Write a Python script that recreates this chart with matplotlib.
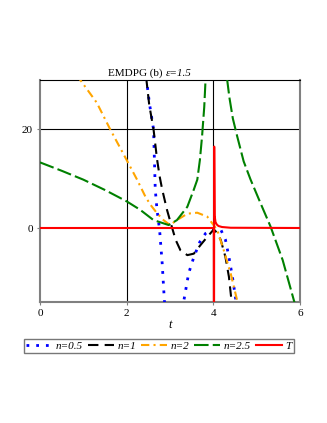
import numpy as np
import matplotlib.pyplot as plt

plt.rcParams['font.family'] = ['Liberation Serif', 'DejaVu Serif']

# n=0.5
x_n05 = [2.45, 2.53, 2.62, 2.66, 2.7, 2.76, 2.82, 2.87, 2.95, 3.05, 3.15, 3.25, 3.32, 3.43,
         3.55, 3.69, 3.82, 3.97, 4.08, 4.17, 4.28, 4.36, 4.44, 4.51, 4.55]
y_n05 = [30.5, 25, 20, 7.8, 3.7, -0.4, -7.2, -14.7, -20, -23, -22.5, -19, -14.7, -9.2,
         -5.9, -2.8, -1.1, -0.3, -0.1, -0.3, -2.4, -5.9, -9.9, -14, -17]
# n=1
x_n1 = [2.45, 2.52, 2.62, 2.7, 2.76, 2.82, 2.93, 3.03, 3.13, 3.24, 3.4, 3.55, 3.7,
        3.86, 4.01, 4.09, 4.17, 4.28, 4.36, 4.41, 4.45]
y_n1 = [30.5, 25, 20, 14, 10.5, 7.8, 3.7, 0.6, -2.4, -4.5, -5.5, -5.2, -3.5,
        -1.8, -0.3, -1.0, -2.4, -5.9, -9.9, -14, -17]
# n=2
x_n2 = [0.85, 0.93, 1.31, 1.62, 1.95, 2.24, 2.43, 2.55, 2.7, 2.85, 3.0, 3.16, 3.4, 3.63,
        3.86, 3.97, 4.09, 4.24, 4.4, 4.55, 4.6]
y_n2 = [31, 30, 25.4, 20, 14.6, 9.8, 6.4, 4.7, 3.0, 1.6, 0.6, 1.6, 2.9, 3.1,
        2.3, 1.0, -0.4, -4.5, -9.2, -14.7, -16.5]
# n=2.5 (two branches, pole near t=4)
x_n25 = [0, 0.5, 1.0, 1.5, 2.0, 2.31, 2.62, 2.97, 3.16, 3.4, 3.55, 3.63, 3.69, 3.74, 3.79, 3.82, 3.85,
         np.nan,
         4.29, 4.32, 4.37, 4.45, 4.55, 4.7, 4.86, 5.1, 5.32, 5.6, 5.86, 5.92]
y_n25 = [13.3, 11.6, 9.8, 7.7, 5.4, 3.7, 1.6, 0.6, 1.6, 4.3, 7.8, 9.8, 13.8, 18.6, 24.5, 30, 36,
         np.nan,
         34, 30, 26.5, 22.2, 18.6, 13.5, 9.8, 4.8, 0.3, -6.5, -14.7, -16.5]
# T
x_T = [0, 4.01, 4.015, 4.02, 4.03, 4.05, 4.08, 4.12, 4.2, 4.4, 6]
y_T = [0, 0, -40, 16.5, 2.5, 1.2, 0.7, 0.4, 0.2, 0.05, 0.0]

fig = plt.figure(figsize=(3.27, 4.23), dpi=100)
ax = fig.add_axes([40/327, 1-302/423, 260/327, 222/423])

for v in [2, 4]:
    ax.axvline(v, color='k', lw=0.8, zorder=1)
ax.axhline(20, color='k', lw=0.8, zorder=1)

ax.plot(x_n05, y_n05, color='#0000ff', lw=2.0, ls=(0, (1, 2.5)), label='n=0.5', zorder=3)
ax.plot(x_n1, y_n1, color='k', lw=1.5, ls=(0, (5, 3)), label='n=1', zorder=3)
ax.plot(x_n2, y_n2, color='#ffa500', lw=1.5, ls=(0, (4, 2, 1, 2)), label='n=2', zorder=3)
ax.plot(x_n25, y_n25, color='#008000', lw=1.5, ls=(0, (7, 2)), label='n=2.5', zorder=3)
ax.plot(x_T, y_T, color='#ff0000', lw=1.5, label='T', zorder=4)

ax.set_xlim(0, 6)
ax.set_ylim(-15, 30)
ax.set_xticks([0, 2, 4, 6])
ax.set_yticks([0, 20])
ax.tick_params(labelsize=8, length=2, direction='out', pad=3, color='#808080')
for s in ['left', 'right', 'bottom']:
    ax.spines[s].set_color('#808080')
    ax.spines[s].set_linewidth(1.5)
ax.spines['top'].set_color('k')
ax.spines['top'].set_linewidth(0.8)

ax.set_xlabel('t', fontsize=9, fontstyle='italic', labelpad=1)

fig.text(163/327, 1-73/423, 'EMDPG (b)', fontsize=8, ha='right', va='center')
fig.text(166/327, 1-73/423, 'ε=1.5', fontsize=8, ha='left', va='center', fontstyle='italic')

leg = ax.legend(loc='center', bbox_to_anchor=((159-40)/260, (302-346)/222), ncol=5,
                prop={'size': 8, 'style': 'italic'}, handlelength=2.35, handletextpad=0.3,
                columnspacing=0.45, fancybox=False, edgecolor='#555555', borderpad=0.2,
                borderaxespad=0, frameon=True)
leg.get_frame().set_linewidth(1.0)

fig.savefig('out.png', dpi=100)
